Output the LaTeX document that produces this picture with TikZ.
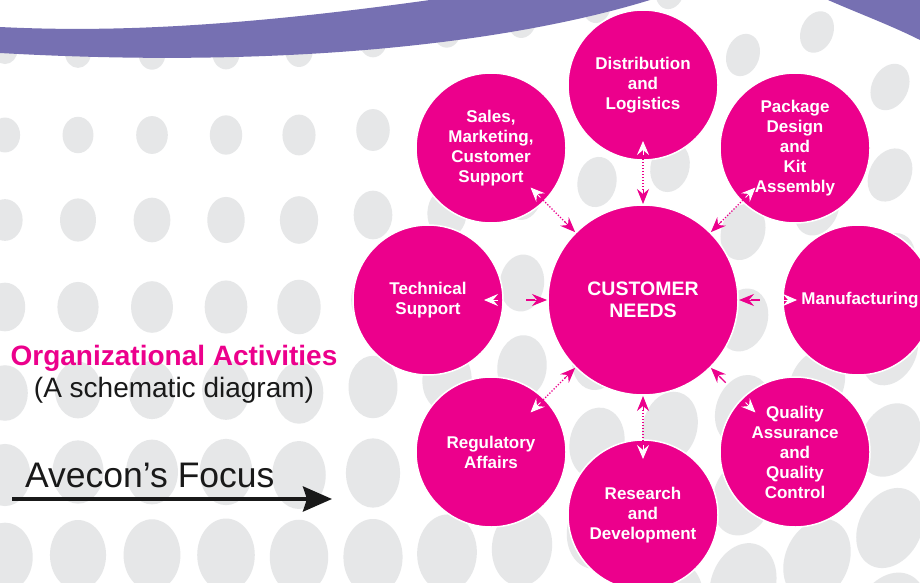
\documentclass[tikz,border=0pt]{standalone}
\usepackage{fontspec}
\setmainfont{Liberation Sans}
\usetikzlibrary{arrows.meta,calc}
\definecolor{mag}{RGB}{236,0,140}
\definecolor{swoosh}{RGB}{118,112,178}
\definecolor{dotgray}{RGB}{230,231,232}
\begin{document}
\begin{tikzpicture}[x=1pt,y=-1pt,
  bubble/.style={circle, fill=mag, draw=white, line width=1.5pt, minimum size=150pt, inner sep=0pt, text=white, align=center, font=\fontsize{17}{20}\selectfont\bfseries},
  hub/.style={bubble, minimum size=190pt, font=\fontsize{19.5}{22}\selectfont\bfseries},
  dotlink/.style={draw=mag, line width=1.3pt, dash pattern=on 1.3pt off 1.7pt},
  stub/.style={draw=mag, line width=1.3pt},
  pinkhead/.style={draw=mag, line width=1pt, -{Stealth[length=15pt,width=12pt,inset=5pt,fill=mag]}},
  whitehead/.style={draw=white, line width=1pt, -{Stealth[length=14pt,width=12pt,inset=5pt,fill=white]}},
  focusarrow/.style={draw=black!90, line width=4pt, -{Stealth[length=29pt,width=25pt,inset=4pt]}},
]
\useasboundingbox (0,0) rectangle (920,583);
\clip (0,0) rectangle (920,583);
\fill[white] (0,0) rectangle (920,583);

% background dot pattern
\foreach \cx/\ylist in {
  5/{50,135,220,307,393,475,557},
  78/{53,135,220,307,390,472,555},
  152/{54,135,220,307,390,472,555},
  226/{53,135,220,307,390,472,555},
  299/{50,135,220,307,393,475,557},
  373/{40,130,215,300,387,473,557},
  447/{30,128,213,298,380,466,553},
  522/{20,107,195,283,367,455,547},
  597/{5,94,182,270,358,443,530},
  670/{-9,79,167,255,343,427,515,603},
  743/{55,143,232,320,410,497,585},
  817/{32,120,208,296,384,472,560},
  890/{-1,87,175,263,352,440,528,616}} {
  \foreach \cy in \ylist {
    \pgfmathsetmacro{\rx}{11+0.005*\cx+0.03*\cy}
    \pgfmathsetmacro{\ry}{12+0.01*\cx+0.04*\cy}
    \pgfmathsetmacro{\rot}{min(0,-0.055*(\cx-400))}
    \fill[dotgray, rotate around={\rot:(\cx,\cy)}] (\cx,\cy) ellipse [x radius=\rx, y radius=\ry];
  }
}

% swoosh
\fill[swoosh] (0,27) .. controls (120,33) and (250,25) .. (430,0) -- (650,0) .. controls (520,40) and (300,70) .. (0,53) -- cycle;
\fill[swoosh] (828,0) -- (920,0) -- (920,40) .. controls (890,25) and (860,14) .. (828,0) -- cycle;

% circles
\node[hub] (hub) at (643,300) {CUSTOMER\\NEEDS};
\node[bubble] (dist) at (643,85) {Distribution\\and\\Logistics};
\node[bubble] (sales) at (491,148) {Sales,\\Marketing,\\Customer\\Support};
\node[bubble] (pack) at (795,148) {Package\\Design\\and\\Kit\\Assembly};
\node[bubble] (tech) at (428,300) {Technical\\Support};
\node[bubble] (manu) at (858,300) {\hspace*{4pt}Manufacturing};
\node[bubble] (qa) at (795,452) {Quality\\Assurance\\and\\Quality\\Control};
\node[bubble] (rese) at (643,515) {Research\\and\\Development};
\node[bubble] (regu) at (491,452) {Regulatory\\Affairs};

% connectors
\foreach \o in {dist,sales,pack,regu,rese} {
  \draw[dotlink] ($(hub.center)!110pt!(\o.center)$) -- ($(hub.center)!141pt!(\o.center)$);
}
\foreach \o in {tech,manu,qa} {
  \draw[stub] ($(hub.center)!108pt!(\o.center)$) -- ($(hub.center)!117pt!(\o.center)$);
}
\foreach \o in {dist,sales,pack,tech,manu,qa,regu,rese} {
  \draw[pinkhead] ($(hub.center)!111pt!(\o.center)$) -- ($(hub.center)!96pt!(\o.center)$);
}
\foreach \o in {dist,sales,pack,tech,qa,regu,rese} {
  \draw[whitehead] ($(hub.center)!145pt!(\o.center)$) -- ($(hub.center)!159pt!(\o.center)$);
}
\draw[whitehead] ($(hub.center)!141pt!(manu.center)$) -- ($(hub.center)!154pt!(manu.center)$);

% left texts
\node[anchor=base, text=mag, font=\fontsize{28}{30}\selectfont\bfseries, inner sep=0pt] (title) at (174,365) {Organizational Activities};
\node[anchor=base, text=black!90, font=\fontsize{28}{30}\selectfont, inner sep=0pt] (subtitle) at (174,397) {(A schematic diagram)};
\node[anchor=base west, text=black!90, font=\fontsize{35.5}{38}\selectfont, inner sep=0pt] (focus) at (25,487) {Avecon’s Focus};
\coordinate (fs) at (12,499);
\coordinate (fe) at (332,499);
\draw[focusarrow] (fs) -- (fe);
\end{tikzpicture}
\end{document}
